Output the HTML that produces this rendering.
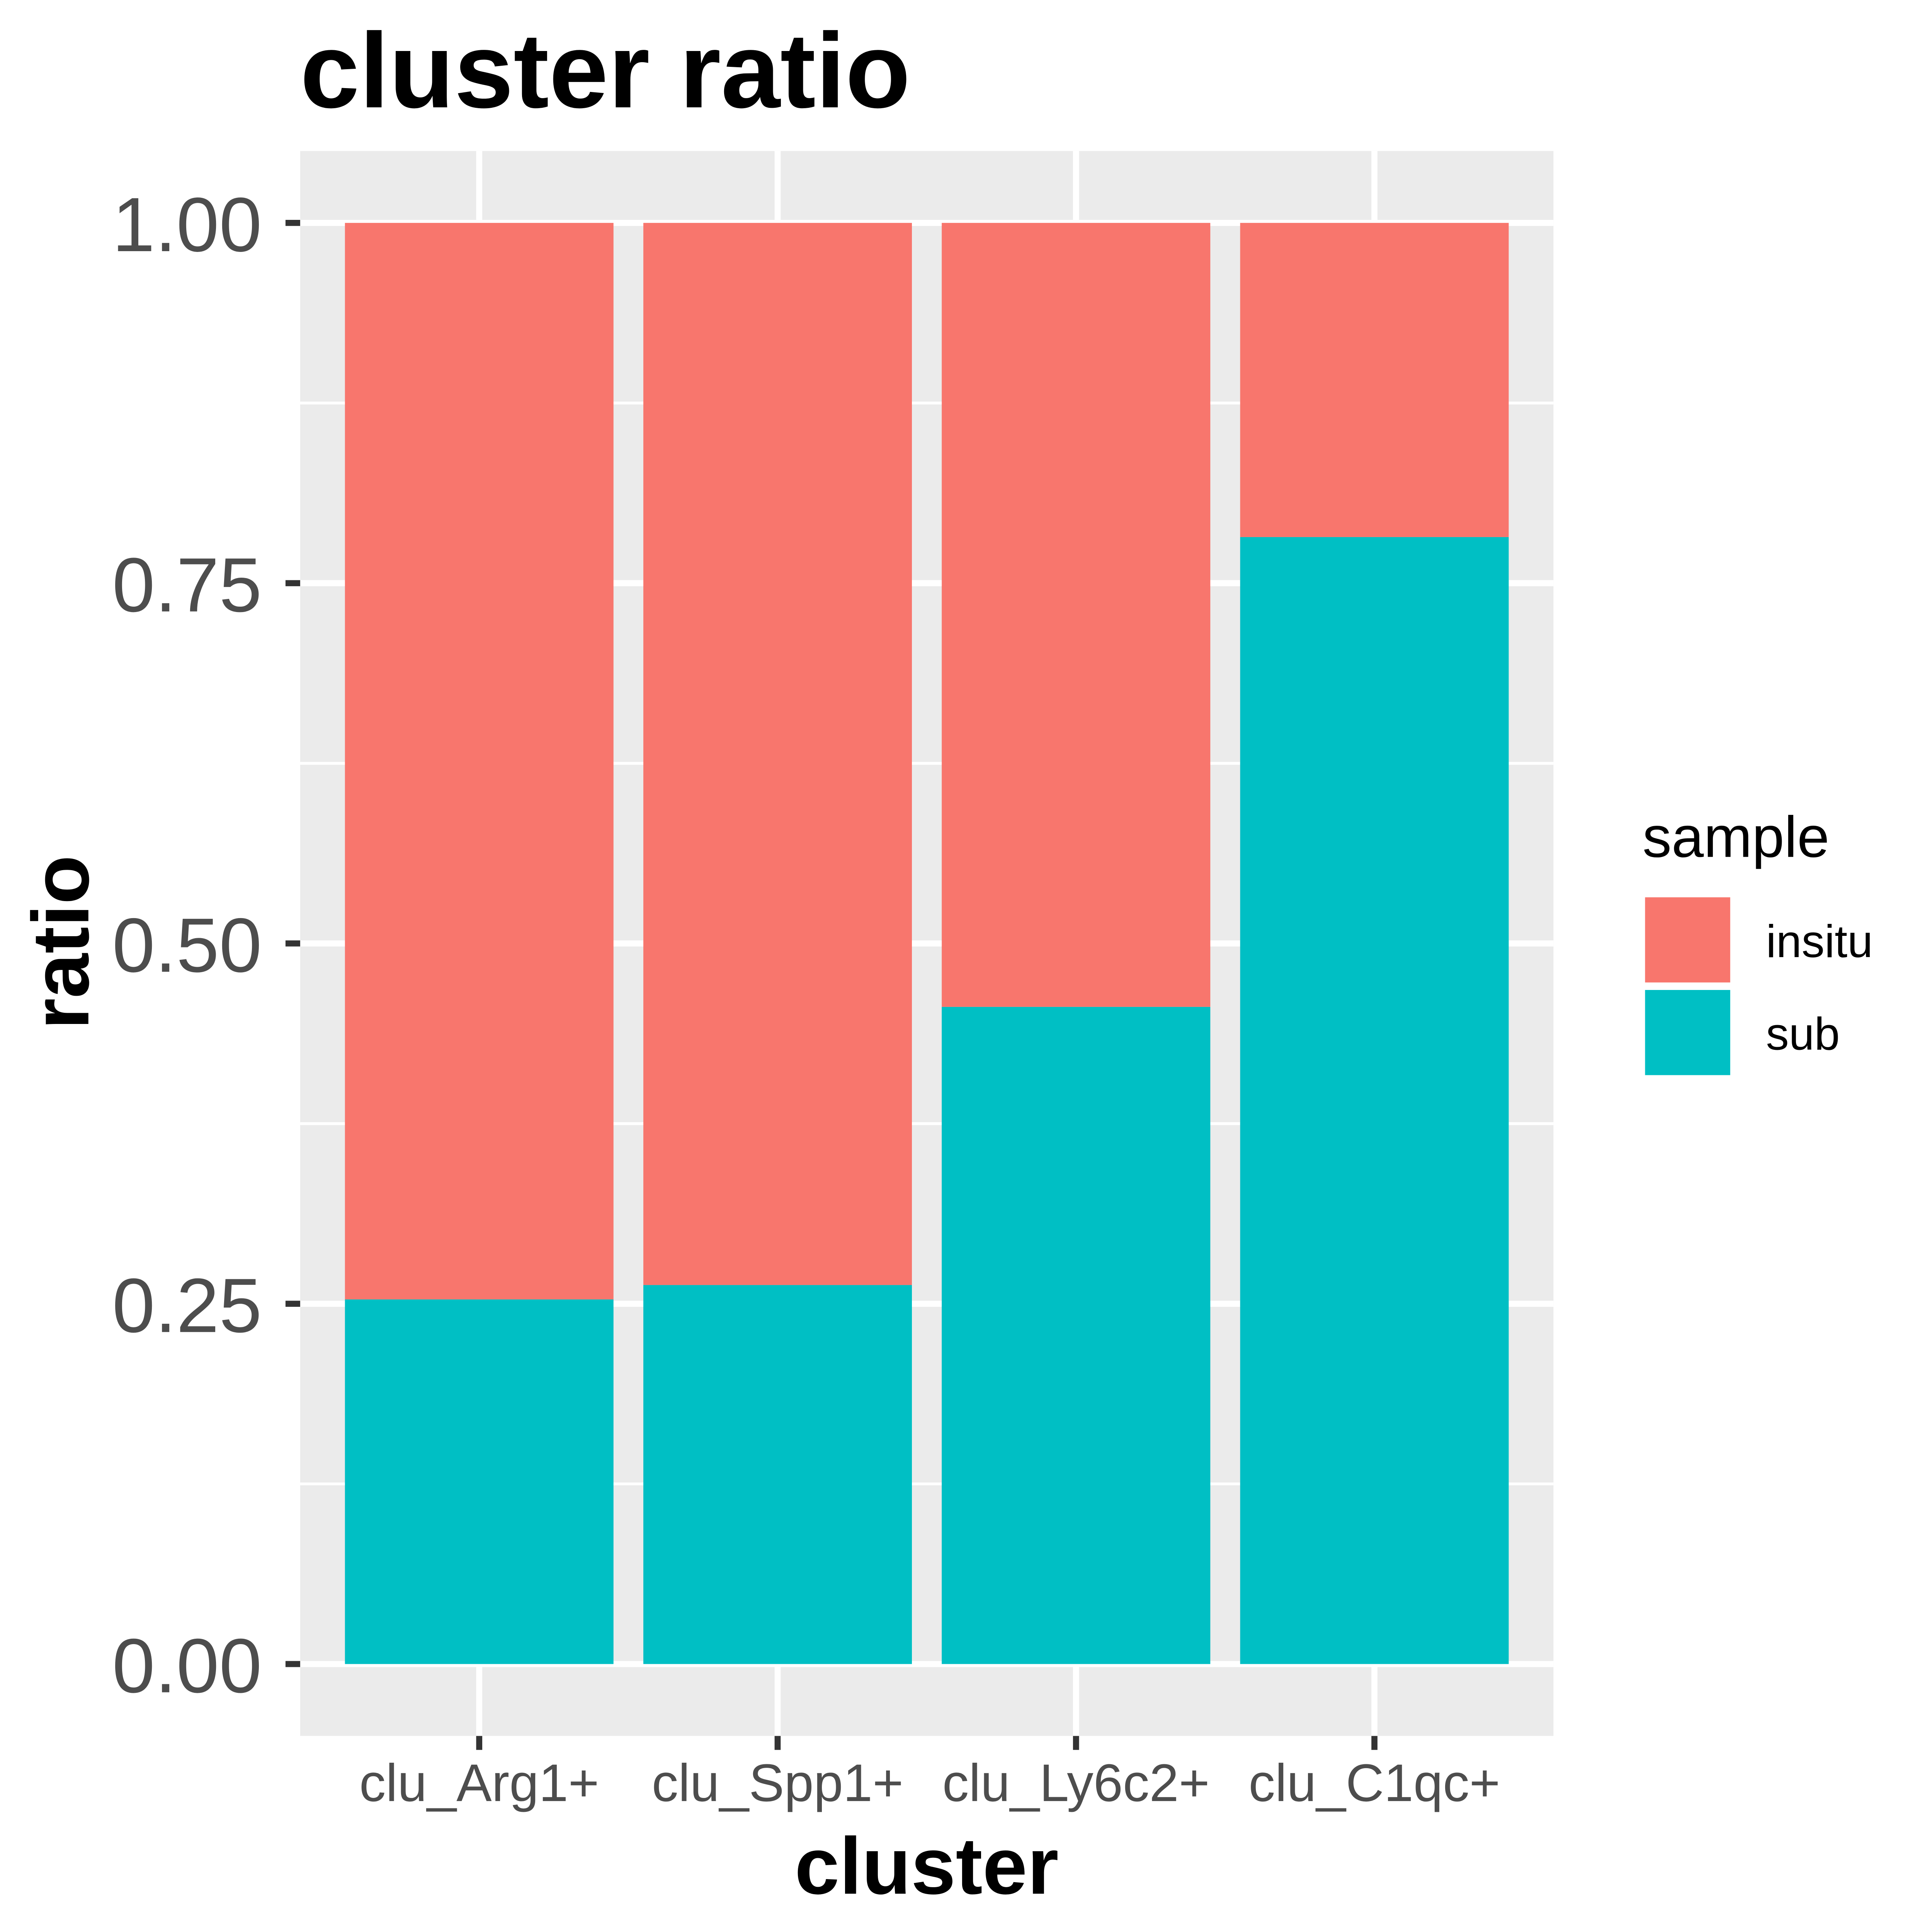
<!DOCTYPE html>
<html><head><meta charset="utf-8"><style>html,body{margin:0;padding:0;background:#fff;overflow:hidden;width:100%;height:100%}svg{display:block;width:100vw;height:100vh}</style></head>
<body>
<svg id="chart" viewBox="0 0 5400 5400" preserveAspectRatio="xMidYMid meet" xmlns="http://www.w3.org/2000/svg" font-family="Liberation Sans, Arial, sans-serif">
<rect width="5400" height="5400" fill="#fff"/>
<text x="839" y="300" font-size="298" font-weight="bold" fill="#000">cluster ratio</text>
<rect x="839" y="422" width="3503" height="4430" fill="#ebebeb"/>
<g id="grid"></g>
<g id="bars"></g>
<g id="axes"></g>
<text x="2590" y="5293" font-size="225" font-weight="bold" text-anchor="middle" fill="#000">cluster</text>
<text transform="translate(247,2634) rotate(-90)" font-size="225" font-weight="bold" text-anchor="middle" fill="#000">ratio</text>
<g>
<text x="4591" y="2395" font-size="162" fill="#000">sample</text>
<rect x="4598" y="2508" width="238" height="238" fill="#F8766D"/>
<text x="4936" y="2675" font-size="128" fill="#000">insitu</text>
<rect x="4598" y="2767" width="238" height="238" fill="#00BFC4"/>
<text x="4936" y="2934" font-size="128" fill="#000">sub</text>
</g>
</svg>
<script>
const categories = ["clu_Arg1+", "clu_Spp1+", "clu_Ly6c2+", "clu_C1qc+"];
const subValues = [0.253, 0.263, 0.456, 0.782];
const insituValues = [0.747, 0.737, 0.544, 0.218];
const yTicks = [0, 0.25, 0.5, 0.75, 1.0];
const yTickLabels = ["0.00", "0.25", "0.50", "0.75", "1.00"];
const yMinor = [0.125, 0.375, 0.625, 0.875];

const NS = "http://www.w3.org/2000/svg";
const panelL = 839, panelR = 4342;
const y0px = 4651, unit = 4028;
function yScale(v){ return y0px - v*unit; }
const step = (panelR - panelL)/ (categories.length + 0.2);
function xScale(i){ return panelL + step*0.6 + i*step; }
const barW = step*0.9;
function mk(tag, attrs, parent){ const e=document.createElementNS(NS,tag); for(const k in attrs) e.setAttribute(k,attrs[k]); parent.appendChild(e); return e; }
const grid=document.getElementById('grid'), bars=document.getElementById('bars'), axes=document.getElementById('axes');
yMinor.forEach(v=>{
  const l=mk('line',{x1:panelL,x2:panelR,y1:yScale(v),y2:yScale(v),stroke:'#fff','stroke-width':8},grid);
  
  
});
yTicks.forEach((v,i)=>{
  const l=mk('line',{x1:panelL,x2:panelR,y1:yScale(v),y2:yScale(v),stroke:'#fff','stroke-width':17},grid);
  
  
  const t=mk('line',{x1:798,x2:839,y1:yScale(v),y2:yScale(v),stroke:'#333','stroke-width':17},axes);
  
  
  const tx=mk('text',{x:732,y:yScale(v)+79,'font-size':215,'text-anchor':'end',fill:'#4d4d4d'},axes);
  tx.textContent=yTickLabels[i];
  
  
});
categories.forEach((c,i)=>{
  const cx=xScale(i);
  const g=mk('line',{x1:cx,x2:cx,y1:422,y2:4852,stroke:'#fff','stroke-width':17},grid);
  
  
  const s=mk('rect',{x:cx-barW/2,y:yScale(subValues[i]),width:barW,height:yScale(0)-yScale(subValues[i]),fill:'#00BFC4'},bars);
  
  
  const top=subValues[i]+insituValues[i];
  const r=mk('rect',{x:cx-barW/2,y:yScale(top),width:barW,height:yScale(subValues[i])-yScale(top),fill:'#F8766D'},bars);
  
  
  const t=mk('line',{x1:cx,x2:cx,y1:4852,y2:4891,stroke:'#333','stroke-width':17},axes);
  
  
  const tx=mk('text',{x:cx,y:5034,'font-size':148,'text-anchor':'middle',fill:'#4d4d4d'},axes);
  tx.textContent=c;
  
  
});
</script>
</body></html>
